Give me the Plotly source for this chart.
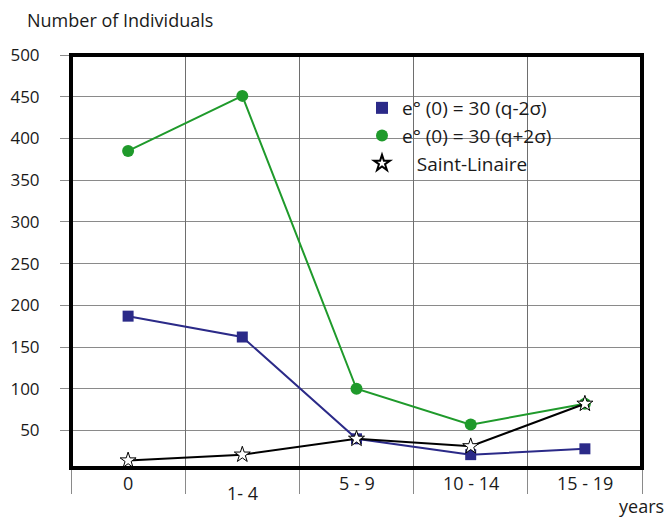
import plotly.graph_objects as go

categories = ["0", "1- 4", "5 - 9", "10 - 14", "15 - 19"]
q_minus = [187, 162, 40, 21, 28]
q_plus = [385, 451, 100, 57, 82]
saint_linaire = [14, 21, 40, 31, 82]
y_ticks = [50, 100, 150, 200, 250, 300, 350, 400, 450, 500]

name_minus = "e° (0) = 30 (q-2σ)"
name_plus = "e° (0) = 30 (q+2σ)"
name_sl = "   Saint-Linaire"

BLUE = "#2b2a88"
GREEN = "#1f9a2b"
GRID = "#8a8a8a"
FONT = "Open Sans"
TXT = "#1a1a1a"

W, H = 670, 517
L, R, T, B = 71, 28, 55, 49
PW, PH = W - L - R, H - T - B


def px_x(x):
    return (x - L) / PW


def px_y(y):
    return (H - B - y) / PH


fig = go.Figure()

xi = list(range(len(categories)))

fig.add_trace(go.Scatter(x=xi, y=q_plus, mode="lines+markers", showlegend=False,
                         line=dict(color=GREEN, width=2),
                         marker=dict(symbol="circle", size=12, color=GREEN)))
fig.add_trace(go.Scatter(x=xi, y=q_minus, mode="lines+markers", showlegend=False,
                         line=dict(color=BLUE, width=2),
                         marker=dict(symbol="square", size=11, color=BLUE)))
fig.add_trace(go.Scatter(x=xi, y=saint_linaire, mode="lines+markers", showlegend=False,
                         line=dict(color="black", width=2),
                         marker=dict(symbol="star", size=12, color="white",
                                     line=dict(color="black", width=1))))

# legend entries (markers only, as in the reference)
fig.add_trace(go.Scatter(x=[None], y=[None], mode="markers", name=name_minus, legendgroup="a",
                         marker=dict(symbol="square", size=11, color=BLUE)))
fig.add_trace(go.Scatter(x=[None], y=[None], mode="markers", name=name_plus, legendgroup="b",
                         marker=dict(symbol="circle", size=12, color=GREEN)))
fig.add_trace(go.Scatter(x=[None], y=[None], mode="markers", name=name_sl, legendgroup="c",
                         marker=dict(symbol="star", size=10, color="white",
                                     line=dict(color="black", width=1))))

# helper traces for the boundary grid (x2) and the short y tick marks (y2)
fig.add_trace(go.Scatter(x=[None], y=[None], xaxis="x2", showlegend=False, hoverinfo="skip"))
fig.add_trace(go.Scatter(x=[None], y=[None], yaxis="y2", showlegend=False, hoverinfo="skip"))

annotations = []
for i, c in enumerate(categories):
    yy = 493 if c == "1- 4" else 483
    annotations.append(dict(x=i, y=px_y(yy), xref="x", yref="paper", text=c, showarrow=False,
                            xanchor="center", yanchor="middle",
                            font=dict(family=FONT, size=18, color=TXT)))
annotations.append(dict(x=px_x(25), y=px_y(20), xref="paper", yref="paper",
                        text="Number of Individuals", showarrow=False, xanchor="left",
                        yanchor="middle", font=dict(family=FONT, size=18, color=TXT)))
annotations.append(dict(x=px_x(666), y=px_y(506), xref="paper", yref="paper",
                        text="years", showarrow=False, xanchor="right",
                        yanchor="middle", font=dict(family=FONT, size=18, color=TXT)))

fig.update_layout(
    width=W, height=H,
    margin=dict(l=L, r=R, t=T, b=B, autoexpand=False),
    paper_bgcolor="white", plot_bgcolor="white",
    font=dict(family=FONT, size=17, color=TXT),
    xaxis=dict(type="linear", range=[-0.5, 4.5], showgrid=False, zeroline=False,
               showticklabels=False, ticks="", showline=False, automargin=False),
    xaxis2=dict(overlaying="x", anchor="y", side="bottom", range=[-0.5, 4.5],
                tickvals=[-0.5, 0.5, 1.5, 2.5, 3.5, 4.5], showticklabels=False,
                showgrid=True, gridcolor="#6e6e6e", gridwidth=1, zeroline=False,
                ticks="outside", ticklen=25, tickcolor=GRID, tickwidth=1, showline=False,
                automargin=False),
    yaxis=dict(range=[5, 500], tickvals=y_ticks, showgrid=True, gridcolor=GRID, gridwidth=1,
               zeroline=False, ticks="outside", ticklen=27, tickcolor="rgba(0,0,0,0)",
               tickwidth=1, tickfont=dict(family=FONT, size=17, color=TXT), showline=False,
               automargin=False),
    yaxis2=dict(overlaying="y", anchor="x", side="left", range=[5, 500], tickvals=y_ticks,
                showticklabels=False, showgrid=False, zeroline=False, ticks="outside",
                ticklen=10, tickcolor=GRID, tickwidth=1, showline=False, automargin=False),
    legend=dict(x=px_x(362), y=px_y(89), xanchor="left", yanchor="top",
                bgcolor="rgba(0,0,0,0)", font=dict(family=FONT, size=19, color=TXT),
                tracegroupgap=0, traceorder="grouped", itemsizing="constant"),
    annotations=annotations,
    shapes=[
        dict(type="rect", xref="paper", yref="paper", x0=px_x(367), x1=px_x(568),
             y0=px_y(201), y1=px_y(85), fillcolor="white", line=dict(width=0), layer="between"),
        dict(type="rect", xref="paper", yref="paper", x0=0, x1=1, y0=0, y1=1,
             line=dict(color="black", width=4), layer="above"),
    ],
)

fig.write_html(
    "out.html",
    config={"displayModeBar": False},
    post_script="document.body.style.margin='0px';document.body.style.overflow='hidden';",
)
